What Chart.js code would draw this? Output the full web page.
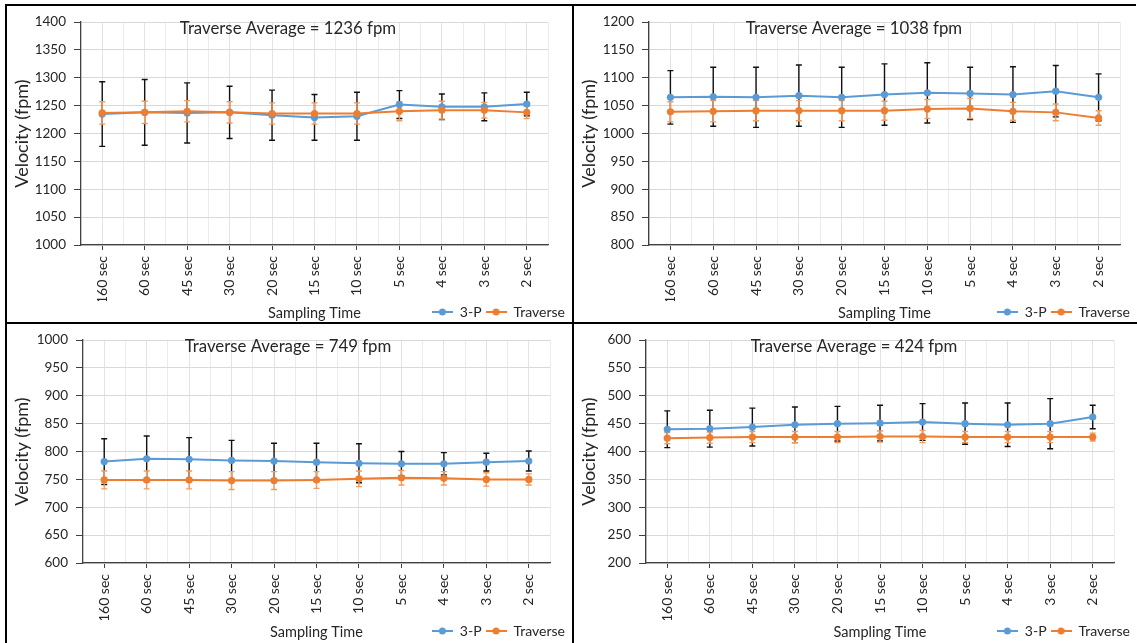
<!DOCTYPE html>
<html>
<head>
<meta charset="utf-8">
<script src="https://cdn.jsdelivr.net/npm/chart.js@4.4.1/dist/chart.umd.min.js"></script>
<style>
  body { margin: 0; background: #fff; width: 1137px; height: 643px; overflow: hidden; position: relative; }
  .panel { position: absolute; }
  .rule { position: absolute; background: #000; z-index: 5; }
</style>
</head>
<body>
<div class="rule" style="left:5px;top:4px;width:1131px;height:2px"></div>
<div class="rule" style="left:5px;top:4px;width:2px;height:639px"></div>
<div class="rule" style="left:572px;top:4px;width:2px;height:639px"></div>
<div class="rule" style="left:5px;top:322px;width:1132px;height:2px"></div>

<div class="panel" style="left:7px;top:6px;width:565px;height:323px"><canvas id="c1"></canvas></div>
<div class="panel" style="left:574px;top:6px;width:563px;height:323px"><canvas id="c2"></canvas></div>
<div class="panel" style="left:7px;top:324px;width:565px;height:324px"><canvas id="c3"></canvas></div>
<div class="panel" style="left:574px;top:324px;width:563px;height:324px"><canvas id="c4"></canvas></div>

<script>
const samplingTimes = ['160 sec', '60 sec', '45 sec', '30 sec', '20 sec', '15 sec', '10 sec', '5 sec', '4 sec', '3 sec', '2 sec'];

// 1236 fpm case
const threeP1 = [1235, 1238, 1237, 1238, 1233, 1229, 1231, 1252, 1248, 1248, 1253];
const threeP1Err = [58, 59, 54, 47, 45, 41, 43, 25, 23, 25, 21];
const traverse1 = [1237, 1238, 1240, 1238, 1236, 1236, 1236, 1240, 1242, 1242, 1238];
const traverse1Err = [20, 20, 19, 19, 19, 19, 19, 17, 16, 14, 11];
const yRange1 = [1000, 1400];

// 1038 fpm case
const threeP2 = [1065, 1066, 1065, 1068, 1065, 1070, 1073, 1072, 1070, 1076, 1065];
const threeP2Err = [48, 53, 54, 55, 54, 55, 54, 47, 50, 46, 42];
const traverse2 = [1039, 1040, 1041, 1041, 1041, 1041, 1044, 1045, 1040, 1038, 1028];
const traverse2Err = [18, 19, 18, 18, 18, 17, 17, 18, 16, 15, 13];
const yRange2 = [800, 1200];

// 749 fpm case
const threeP3 = [782, 787, 786, 784, 783, 781, 779, 778, 778, 781, 783];
const threeP3Err = [41, 41, 39, 36, 32, 34, 35, 22, 20, 16, 18];
const traverse3 = [749, 749, 749, 748, 748, 749, 751, 753, 752, 750, 750];
const traverse3Err = [16, 16, 16, 16, 16, 15, 14, 13, 12, 12, 10];
const yRange3 = [600, 1000];

// 424 fpm case
const threeP4 = [440, 441, 444, 448, 450, 451, 453, 450, 448, 450, 462];
const threeP4Err = [33, 33, 34, 32, 31, 32, 33, 37, 39, 45, 21];
const traverse4 = [424, 425, 426, 426, 426, 427, 427, 426, 426, 426, 426];
const traverse4Err = [10, 10, 10, 10, 10, 10, 11, 10, 10, 10, 7];
const yRange4 = [200, 600];

const blue = '#5B9BD5';
const orange = '#ED7D31';
const textColor = '#262626';
const axisColor = '#404040';

Chart.defaults.font.family = 'Lato, "Open Sans", sans-serif';

function legendIcon(color) {
    const c = document.createElement('canvas');
    c.width = 21; c.height = 10;
    const g = c.getContext('2d');
    g.strokeStyle = color; g.lineWidth = 2;
    g.beginPath(); g.moveTo(0, 5); g.lineTo(21, 5); g.stroke();
    g.fillStyle = color;
    g.beginPath(); g.arc(10.5, 5, 3.5, 0, Math.PI * 2); g.fill();
    return c;
}
const blueIcon = legendIcon(blue);
const orangeIcon = legendIcon(orange);

// vertical error bars with caps, drawn under the lines
const errorBars = {
    id: 'errorBars',
    beforeDatasetsDraw(chart) {
        const ctx = chart.ctx;
        const yScale = chart.scales.y;
        chart.data.datasets.forEach((ds, i) => {
            const meta = chart.getDatasetMeta(i);
            ctx.save();
            ctx.strokeStyle = ds.errorColor;
            ctx.lineWidth = 1.4;
            meta.data.forEach((pt, j) => {
                const top = yScale.getPixelForValue(ds.data[j] + ds.errors[j]);
                const bot = yScale.getPixelForValue(ds.data[j] - ds.errors[j]);
                ctx.beginPath();
                ctx.moveTo(pt.x, top); ctx.lineTo(pt.x, bot);
                ctx.moveTo(pt.x - 3, top); ctx.lineTo(pt.x + 3, top);
                ctx.moveTo(pt.x - 3, bot); ctx.lineTo(pt.x + 3, bot);
                ctx.stroke();
            });
            ctx.restore();
        });
    }
};

function drawPanel(id, title, yRange, threeP, threePErr, traverse, traverseErr, box) {
    new Chart(document.getElementById(id), {
        type: 'line',
        data: {
            labels: samplingTimes,
            datasets: [{
                label: '3-P',
                data: threeP,
                errors: threePErr,
                errorColor: '#111',
                borderColor: blue,
                backgroundColor: blue,
                borderWidth: 2,
                pointRadius: 3.6,
                pointBorderWidth: 0,
                order: 1,
                xAxisID: 'x',
                yAxisID: 'y'
            }, {
                label: 'Traverse',
                data: traverse,
                errors: traverseErr,
                errorColor: '#F29B5E',
                borderColor: orange,
                backgroundColor: orange,
                borderWidth: 2,
                pointRadius: 3.6,
                pointBorderWidth: 0,
                order: 0,
                xAxisID: 'x',
                yAxisID: 'y'
            }]
        },
        options: {
            responsive: true,
            maintainAspectRatio: false,
            animation: false,
            layout: { padding: { top: box.top, left: 0, right: 3, bottom: 0 } },
            plugins: {
                tooltip: { enabled: false },
                title: {
                    display: true,
                    text: title,
                    color: textColor,
                    font: { size: 16.8, weight: 'normal' },
                    padding: { top: -4, bottom: -16.16 }
                },
                legend: {
                    position: 'bottom',
                    align: 'end',
                    labels: {
                        color: textColor,
                        font: { size: 14 },
                        padding: 4,
                        usePointStyle: true,
                        pointStyleWidth: 21,
                        generateLabels: () => [
                            { text: '3-P', pointStyle: blueIcon, fillStyle: blue, strokeStyle: blue, lineWidth: 0, fontColor: textColor, datasetIndex: 0 },
                            { text: 'Traverse', pointStyle: orangeIcon, fillStyle: orange, strokeStyle: orange, lineWidth: 0, fontColor: textColor, datasetIndex: 1 }
                        ]
                    }
                }
            },
            scales: {
                x: {
                    offset: true,
                    grid: { offset: false, color: '#e3e3e3', tickColor: axisColor, tickLength: 5 },
                    border: { color: axisColor, width: 1.3 },
                    ticks: { autoSkip: false, minRotation: 90, maxRotation: 90, padding: 6, color: textColor, font: { size: 14 } },
                    title: {
                        display: true,
                        text: 'Sampling Time',
                        color: textColor,
                        font: { size: 14.5 },
                        padding: { top: 0, bottom: -20.7 }
                    },
                    afterFit(s) { s.height = box.xh; }
                },
                x2: {
                    type: 'category',
                    labels: samplingTimes,
                    position: 'bottom',
                    offset: true,
                    grid: { offset: true, color: '#ececec', drawTicks: false },
                    border: { display: false },
                    ticks: { display: false },
                    afterFit(s) { s.height = 0; }
                },
                y: {
                    min: yRange[0],
                    max: yRange[1],
                    ticks: { stepSize: 50, padding: 8, color: textColor, font: { size: 13.5 }, callback: v => String(v) },
                    grid: { color: '#d9d9d9', tickColor: axisColor, tickLength: 7 },
                    border: { color: axisColor, width: 1.3 },
                    title: {
                        display: true,
                        text: 'Velocity (fpm)',
                        color: textColor,
                        font: { size: 18 },
                        padding: { top: 4, bottom: 0 }
                    },
                    afterFit(s) { s.width = box.left; }
                },
                pad: {
                    type: 'linear',
                    position: 'right',
                    grid: { display: false },
                    border: { display: false },
                    ticks: { display: false },
                    afterFit(s) { s.width = box.right; }
                }
            }
        },
        plugins: [errorBars]
    });
}

drawPanel('c1', 'Traverse Average = 1236 fpm', yRange1, threeP1, threeP1Err, traverse1, traverse1Err, { top: 10, left: 74, right: 21, xh: 56 });
drawPanel('c2', 'Traverse Average = 1038 fpm', yRange2, threeP2, threeP2Err, traverse2, traverse2Err, { top: 10, left: 75, right: 14, xh: 56 });
drawPanel('c3', 'Traverse Average = 749 fpm', yRange3, threeP3, threeP3Err, traverse3, traverse3Err, { top: 11, left: 76, right: 19, xh: 57 });
drawPanel('c4', 'Traverse Average = 424 fpm', yRange4, threeP4, threeP4Err, traverse4, traverse4Err, { top: 11, left: 72, right: 20, xh: 57 });
</script>
</body>
</html>
